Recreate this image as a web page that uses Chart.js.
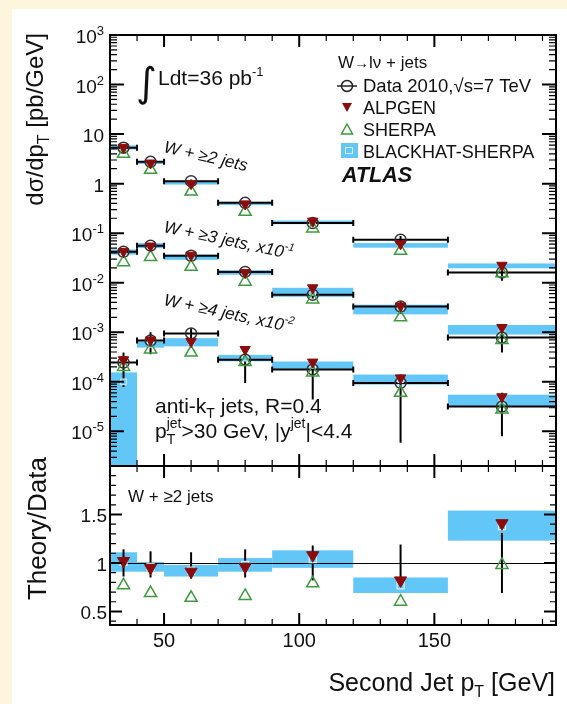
<!DOCTYPE html>
<html>
<head>
<meta charset="utf-8">
<script src="https://cdn.jsdelivr.net/npm/chart.js@4.4.1/dist/chart.umd.min.js"></script>
<style>
  html, body { margin: 0; padding: 0; }
  body { width: 567px; height: 704px; background: #fdf6dc; position: relative; overflow: hidden; }
  #sheet { position: absolute; left: 12px; top: 9px; right: 0; bottom: 0; background: #fff; }
  canvas { position: absolute; left: 0; top: 0; }
</style>
</head>
<body>
<div id="sheet"></div>
<canvas id="topChart" width="567" height="704"></canvas>
<canvas id="ratioChart" width="567" height="704"></canvas>
<script>
// bins of second jet pT [GeV]
const binLow  = [30, 40, 50, 70, 90, 120, 155]
const binHigh = [40, 50, 70, 90, 120, 155, 195]
const binMid  = [35, 45, 60, 80, 105, 137.5, 175]

// W + >=2 jets  [pb/GeV]
const dataW2   = [5.3, 2.75, 1.12, 0.41, 0.16, 0.074, 0.016]
const dataW2Lo = [4.7, 2.45, 1.0, 0.36, 0.135, 0.062, 0.011]
const dataW2Hi = [5.9, 3.05, 1.24, 0.46, 0.19, 0.088, 0.021]
const alpgenW2 = [5.4, 2.6, 1.0, 0.39, 0.175, 0.061, 0.0225]
const sherpaW2 = [4.0, 1.9, 0.69, 0.27, 0.125, 0.044, 0.0155]
const bhW2Lo   = [4.9, 2.5, 0.96, 0.37, 0.152, 0.051, 0.0196]
const bhW2Hi   = [5.9, 2.8, 1.12, 0.43, 0.18, 0.063, 0.0245]
const bhW2Mid  = [5.4, 2.65, 1.04, 0.40, 0.166, 0.057, 0.022]

// W + >=3 jets, x10^-1
const dataW3   = [0.042, 0.056, 0.035, 0.0165, 0.0057, 0.0033, 0.00078]
const dataW3Lo = [0.038, 0.051, 0.031, 0.0145, 0.0048, 0.0024, 0.00039]
const dataW3Hi = [0.046, 0.061, 0.039, 0.0185, 0.0067, 0.0042, 0.0011]
const alpgenW3 = [0.043, 0.055, 0.036, 0.016, 0.0079, 0.0034, 0.00125]
const sherpaW3 = [0.026, 0.033, 0.021, 0.0105, 0.0046, 0.002, 0.0007]
const bhW3Lo   = [0.037, 0.05, 0.029, 0.0145, 0.0052, 0.0023, 0.0009]
const bhW3Hi   = [0.047, 0.063, 0.037, 0.018, 0.0079, 0.0036, 0.0014]
const bhW3Mid  = [0.042, 0.056, 0.033, 0.016, 0.0064, 0.0029, 0.0011]

// W + >=4 jets, x10^-2
const dataW4   = [0.000245, 0.00068, 0.00095, 0.00028, 0.000178, 0.000095, 0.0000316]
const dataW4Lo = [0.000079, 0.00036, 0.00056, 0.000095, 0.000044, 0.0000059, 0.000008]
const dataW4Hi = [0.00039, 0.001, 0.0012, 0.00051, 0.00028, 0.00014, 0.00006]
const alpgenW4 = [0.00028, 0.0007, 0.00065, 0.00045, 0.00025, 0.00012, 0.00005]
const sherpaW4 = [0.0002, 0.00045, 0.00039, 0.00025, 0.000155, 0.00006, 0.0000275]
const bhW4Lo   = [0.000001, 0.00049, 0.00052, 0.00026, 0.000178, 0.000088, 0.0000316]
const bhW4Hi   = [0.000155, 0.00065, 0.00076, 0.00035, 0.000257, 0.00014, 0.000055]
const bhW4Mid  = [0.0001, 0.00057, 0.00063, 0.0003, 0.000215, 0.00011, 0.000042]

// Theory/Data for W + >=2 jets
const ratioAlpgen  = [1.02, 0.95, 0.91, 0.96, 1.08, 0.82, 1.41]
const ratioSherpa  = [0.77, 0.69, 0.64, 0.66, 0.79, 0.60, 0.98]
const ratioErrLo   = [0.86, 0.85, 0.84, 0.85, 0.82, 0.81, 0.69]
const ratioErrHi   = [1.14, 1.12, 1.11, 1.14, 1.18, 1.19, 1.31]
const ratioBhLo    = [0.91, 0.91, 0.86, 0.91, 0.95, 0.69, 1.23]
const ratioBhHi    = [1.11, 1.01, 0.98, 1.05, 1.13, 0.85, 1.54]
const ratioBhMid   = [1.01, 0.96, 0.92, 0.98, 1.04, 0.77, 1.38]

// axes
const xMajorTicks = [50, 100, 150]
const xTickLabels = ['50', '100', '150']
const logDecades = [-5, -4, -3, -2, -1, 0, 1, 2, 3]
const logTickLabels = [['10', '-5'], ['10', '-4'], ['10', '-3'], ['10', '-2'], ['10', '-1'], ['1', ''], ['10', ''], ['10', '2'], ['10', '3']]
const ratioMajorTicks = [0.5, 1, 1.5]
const ratioTickLabels = ['0.5', '1', '1.5']

const FONT = "'Liberation Sans', Arial, Helvetica, sans-serif"
const RED = '#8c0c0c'
const GREEN = '#3e9a3e'
const CYAN = '#62c6f6'
const INK = '#111'

// text with sub/superscripts: parts = [{t, s, dy, f, adv}]
function rich(ctx, x, y, parts, align) {
  const raw = [], adv = []
  let total = 0
  parts.forEach((p, i) => {
    ctx.font = (p.f || '') + ' ' + p.s + 'px ' + FONT
    const w = ctx.measureText(p.t).width
    raw.push(w)
    let a = w
    if (p.adv === 0) a = 0
    if (p.adv === 'max') a = Math.max(w, raw[i - 1])
    adv.push(a)
    total += a
  })
  let cx = align === 'right' ? x - total : align === 'center' ? x - total / 2 : x
  ctx.textAlign = 'left'
  ctx.textBaseline = 'alphabetic'
  parts.forEach((p, i) => {
    ctx.font = (p.f || '') + ' ' + p.s + 'px ' + FONT
    ctx.fillText(p.t, cx, y + (p.dy || 0))
    cx += adv[i]
  })
}

function rotated(ctx, x, y, deg, parts, align) {
  ctx.save()
  ctx.translate(x, y)
  ctx.rotate(deg * Math.PI / 180)
  rich(ctx, 0, 0, parts, align)
  ctx.restore()
}

function series(...groups) {
  const out = []
  groups.forEach(g => g.forEach((v, i) => out.push({ x: binMid[i], y: v })))
  return out
}

// boxes and error bars drawn through the chart scales
function bandsPlugin(cfg) {
  return {
    id: 'bands',
    beforeDatasetsDraw(chart) {
      const { ctx, chartArea: a, scales: { x, y } } = chart
      ctx.save()
      ctx.beginPath()
      ctx.rect(a.left, a.top, a.right - a.left, a.bottom - a.top)
      ctx.clip()
      ctx.fillStyle = CYAN
      cfg.boxes.forEach(b => {
        b.lo.forEach((lo, i) => {
          const x0 = x.getPixelForValue(binLow[i]), x1 = x.getPixelForValue(binHigh[i])
          const y0 = y.getPixelForValue(b.hi[i]), y1 = y.getPixelForValue(lo)
          ctx.fillRect(x0, y0, x1 - x0, y1 - y0)
        })
      })
      if (cfg.unity) {
        const py = Math.round(y.getPixelForValue(1)) + 0.5
        ctx.strokeStyle = '#000'
        ctx.lineWidth = 1.2
        ctx.beginPath()
        ctx.moveTo(a.left, py)
        ctx.lineTo(a.right, py)
        ctx.stroke()
      }
      ctx.strokeStyle = '#000'
      ctx.lineWidth = 2
      cfg.errors.forEach(e => {
        e.val.forEach((v, i) => {
          const xc = x.getPixelForValue(binMid[i])
          const yc = y.getPixelForValue(v)
          ctx.beginPath()
          if (cfg.horizontal) {
            const x0 = x.getPixelForValue(binLow[i]), x1 = x.getPixelForValue(binHigh[i])
            ctx.moveTo(x0, yc); ctx.lineTo(x1, yc)
            ctx.moveTo(x0, yc - 3); ctx.lineTo(x0, yc + 3)
            ctx.moveTo(x1, yc - 3); ctx.lineTo(x1, yc + 3)
          }
          ctx.moveTo(xc, y.getPixelForValue(e.lo[i]))
          ctx.lineTo(xc, y.getPixelForValue(e.hi[i]))
          ctx.stroke()
        })
      })
      ctx.restore()
    }
  }
}

// frame, inward ticks, tick labels and texts
function decorPlugin(cfg) {
  return {
    id: 'decor',
    afterDraw(chart) {
      const { ctx, chartArea: a, scales: { x, y } } = chart
      ctx.save()
      ctx.strokeStyle = '#000'
      const tick = (major) => { ctx.lineWidth = major ? 2 : 1.2 }
      for (let v = 40; v < 195; v += 10) {
        const major = xMajorTicks.includes(v)
        const px = x.getPixelForValue(v)
        const len = major ? 12 : 6
        tick(major)
        ctx.beginPath()
        ctx.moveTo(px, a.top); ctx.lineTo(px, a.top + len)
        ctx.moveTo(px, a.bottom); ctx.lineTo(px, a.bottom - len)
        ctx.stroke()
      }
      cfg.yTicks.forEach(t => {
        const py = y.getPixelForValue(t.v)
        tick(t.major)
        ctx.beginPath()
        ctx.moveTo(a.left, py); ctx.lineTo(a.left + t.len, py)
        ctx.moveTo(a.right, py); ctx.lineTo(a.right - t.len, py)
        ctx.stroke()
      })
      ctx.lineWidth = 2
      ctx.strokeRect(a.left, a.top, a.right - a.left, a.bottom - a.top)
      ctx.fillStyle = INK
      cfg.labels(ctx, a, x, y)
      ctx.restore()
    }
  }
}

// ---------------- top panel ----------------
const topTicks = []
logDecades.concat([-6]).forEach(d => {
  for (let m = 1; m <= 9; m++) {
    const v = m * Math.pow(10, d)
    if (v >= 2e-6 && v <= 1000) topTicks.push({ v, major: m === 1, len: m === 1 ? 14 : 7 })
  }
})

function topLabels(ctx, a, x, y) {
  logDecades.forEach((d, i) => {
    const py = y.getPixelForValue(Math.pow(10, d))
    const [base, exp] = logTickLabels[i]
    const parts = [{ t: base, s: 19 }]
    if (exp) parts.push({ t: exp, s: 13, dy: -8 })
    rich(ctx, 104, py + 8, parts, 'right')
  })
  // y title
  rotated(ctx, 43, 33, -90, [
    { t: 'dσ/dp', s: 24 }, { t: 'T', s: 16, dy: 6 }, { t: ' [pb/GeV]', s: 24 }
  ], 'right')
  // luminosity
  ctx.font = '40px DejaVu Sans'
  ctx.fillText('∫', 136, 96)
  rich(ctx, 158, 85, [{ t: 'Ldt=36 pb', s: 21 }, { t: '-1', s: 13, dy: -9 }], 'left')
  // multiplicity labels
  rotated(ctx, 163, 152, 13, [{ t: 'W + ≥2 jets', s: 17, f: 'italic' }], 'left')
  rotated(ctx, 163, 232, 12, [{ t: 'W + ≥3 jets, x10', s: 17, f: 'italic' }, { t: '-1', s: 11, f: 'italic', dy: -8 }], 'left')
  rotated(ctx, 163, 305, 12, [{ t: 'W + ≥4 jets, x10', s: 17, f: 'italic' }, { t: '-2', s: 11, f: 'italic', dy: -8 }], 'left')
  // cuts
  rich(ctx, 155, 413, [{ t: 'anti-k', s: 21 }, { t: 'T', s: 14, dy: 5 }, { t: ' jets, R=0.4', s: 21 }], 'left')
  rich(ctx, 155, 438, [
    { t: 'p', s: 21 }, { t: 'jet', s: 14, dy: -10, adv: 0 }, { t: 'T', s: 14, dy: 6, adv: 'max' },
    { t: '>30 GeV, |y', s: 21 }, { t: 'jet', s: 14, dy: -10 }, { t: '|<4.4', s: 21 }
  ], 'left')
  // legend
  const lx = 347
  rich(ctx, 338, 68, [{ t: 'W', s: 17 }, { t: '→', s: 15 }, { t: 'lν + jets', s: 17 }], 'left')
  ctx.strokeStyle = '#222'
  ctx.lineWidth = 1.5
  ctx.beginPath(); ctx.arc(lx, 86, 5.5, 0, Math.PI * 2); ctx.stroke()
  ctx.beginPath(); ctx.moveTo(lx - 10, 86); ctx.lineTo(lx + 10, 86); ctx.stroke()
  rich(ctx, 363, 92, [{ t: 'Data 2010,√s=7 TeV', s: 18.5 }], 'left')
  ctx.fillStyle = RED
  ctx.beginPath(); ctx.moveTo(lx - 5, 103); ctx.lineTo(lx + 5, 103); ctx.lineTo(lx, 112); ctx.closePath(); ctx.fill()
  ctx.fillStyle = INK
  rich(ctx, 363, 114, [{ t: 'ALPGEN', s: 18 }], 'left')
  ctx.strokeStyle = GREEN
  ctx.beginPath(); ctx.moveTo(lx, 124); ctx.lineTo(lx + 5.5, 134); ctx.lineTo(lx - 5.5, 134); ctx.closePath(); ctx.stroke()
  rich(ctx, 363, 136, [{ t: 'SHERPA', s: 18 }], 'left')
  ctx.fillStyle = CYAN
  ctx.fillRect(lx - 6, 143, 17, 15)
  ctx.strokeStyle = '#d8f1fd'
  ctx.lineWidth = 1
  ctx.strokeRect(lx - 1.5, 147.5, 7, 6)
  ctx.fillStyle = INK
  rich(ctx, 363, 158, [{ t: 'BLACKHAT-SHERPA', s: 18 }], 'left')
  rich(ctx, 342, 182, [{ t: 'ATLAS', s: 21.5, f: 'italic bold' }], 'left')
}

const topConfig = {
  type: 'scatter',
  data: {
    datasets: [
      {
        label: 'ALPGEN',
        data: series(alpgenW2, alpgenW3, alpgenW4),
        pointStyle: 'triangle', rotation: 180, radius: 6,
        backgroundColor: RED, borderColor: RED, borderWidth: 1, order: 0
      },
      {
        label: 'SHERPA',
        data: series(sherpaW2, sherpaW3, sherpaW4),
        pointStyle: 'triangle', radius: 7,
        backgroundColor: 'rgba(0,0,0,0)', borderColor: GREEN, borderWidth: 1.5, order: 1
      },
      {
        label: 'Data 2010',
        data: series(dataW2, dataW3, dataW4),
        pointStyle: 'circle', radius: 5.5,
        backgroundColor: 'rgba(0,0,0,0)', borderColor: '#333', borderWidth: 1.5, order: 2
      },
      {
        label: 'BLACKHAT-SHERPA',
        data: series(bhW2Mid, bhW3Mid, bhW4Mid),
        pointStyle: 'rect', radius: 4,
        backgroundColor: CYAN, borderColor: '#d8f1fd', borderWidth: 1, order: 3
      }
    ]
  },
  options: {
    responsive: false,
    animation: false,
    events: [],
    layout: { padding: { left: 110, top: 35, right: 11, bottom: 238 } },
    plugins: { legend: { display: false }, tooltip: { enabled: false } },
    scales: {
      x: { type: 'linear', min: 30, max: 195, display: false },
      y: { type: 'logarithmic', min: 2e-6, max: 1000, display: false }
    }
  },
  plugins: [
    bandsPlugin({
      boxes: [{ lo: bhW2Lo, hi: bhW2Hi }, { lo: bhW3Lo, hi: bhW3Hi }, { lo: bhW4Lo, hi: bhW4Hi }],
      errors: [
        { val: dataW2, lo: dataW2Lo, hi: dataW2Hi },
        { val: dataW3, lo: dataW3Lo, hi: dataW3Hi },
        { val: dataW4, lo: dataW4Lo, hi: dataW4Hi }
      ],
      horizontal: true
    }),
    decorPlugin({ yTicks: topTicks, labels: topLabels })
  ]
}

// ---------------- ratio panel ----------------
const ratioTicks = []
for (let k = 4; k <= 19; k++) {
  const v = k / 10
  const major = k % 5 === 0
  ratioTicks.push({ v, major, len: major ? 12 : 6 })
}

function ratioLabels(ctx, a, x, y) {
  ratioMajorTicks.forEach((v, i) => {
    rich(ctx, 107, y.getPixelForValue(v) + 8, [{ t: ratioTickLabels[i], s: 19 }], 'right')
  })
  xMajorTicks.forEach((v, i) => {
    rich(ctx, x.getPixelForValue(v), a.bottom + 22, [{ t: xTickLabels[i], s: 20 }], 'center')
  })
  rich(ctx, 128, 502, [{ t: 'W + ≥2 jets', s: 17 }], 'left')
  rotated(ctx, 46, 457, -90, [{ t: 'Theory/Data', s: 26 }], 'right')
  rich(ctx, 555, 691, [
    { t: 'Second Jet p', s: 25 }, { t: 'T', s: 16, dy: 6 }, { t: ' [GeV]', s: 25 }
  ], 'right')
}

const ratioConfig = {
  type: 'scatter',
  data: {
    datasets: [
      {
        label: 'ALPGEN / Data',
        data: series(ratioAlpgen),
        pointStyle: 'triangle', rotation: 180, radius: 7,
        backgroundColor: RED, borderColor: RED, borderWidth: 1, order: 0
      },
      {
        label: 'SHERPA / Data',
        data: series(ratioSherpa),
        pointStyle: 'triangle', radius: 7,
        backgroundColor: 'rgba(0,0,0,0)', borderColor: GREEN, borderWidth: 1.5, order: 1
      },
      {
        label: 'BLACKHAT-SHERPA / Data',
        data: series(ratioBhMid),
        pointStyle: 'rect', radius: 5,
        backgroundColor: CYAN, borderColor: '#d8f1fd', borderWidth: 1.2, order: 3
      }
    ]
  },
  options: {
    responsive: false,
    animation: false,
    events: [],
    layout: { padding: { left: 110, top: 466, right: 11, bottom: 79 } },
    plugins: { legend: { display: false }, tooltip: { enabled: false } },
    scales: {
      x: { type: 'linear', min: 30, max: 195, display: false },
      y: { type: 'linear', min: 0.36, max: 2.0, display: false }
    }
  },
  plugins: [
    bandsPlugin({
      boxes: [{ lo: ratioBhLo, hi: ratioBhHi }],
      errors: [{ val: ratioBhMid, lo: ratioErrLo, hi: ratioErrHi }],
      unity: true,
      horizontal: false
    }),
    decorPlugin({ yTicks: ratioTicks, labels: ratioLabels })
  ]
}

const topChart = new Chart(document.getElementById('topChart').getContext('2d'), topConfig)
const ratioChart = new Chart(document.getElementById('ratioChart').getContext('2d'), ratioConfig)
</script>
</body>
</html>
